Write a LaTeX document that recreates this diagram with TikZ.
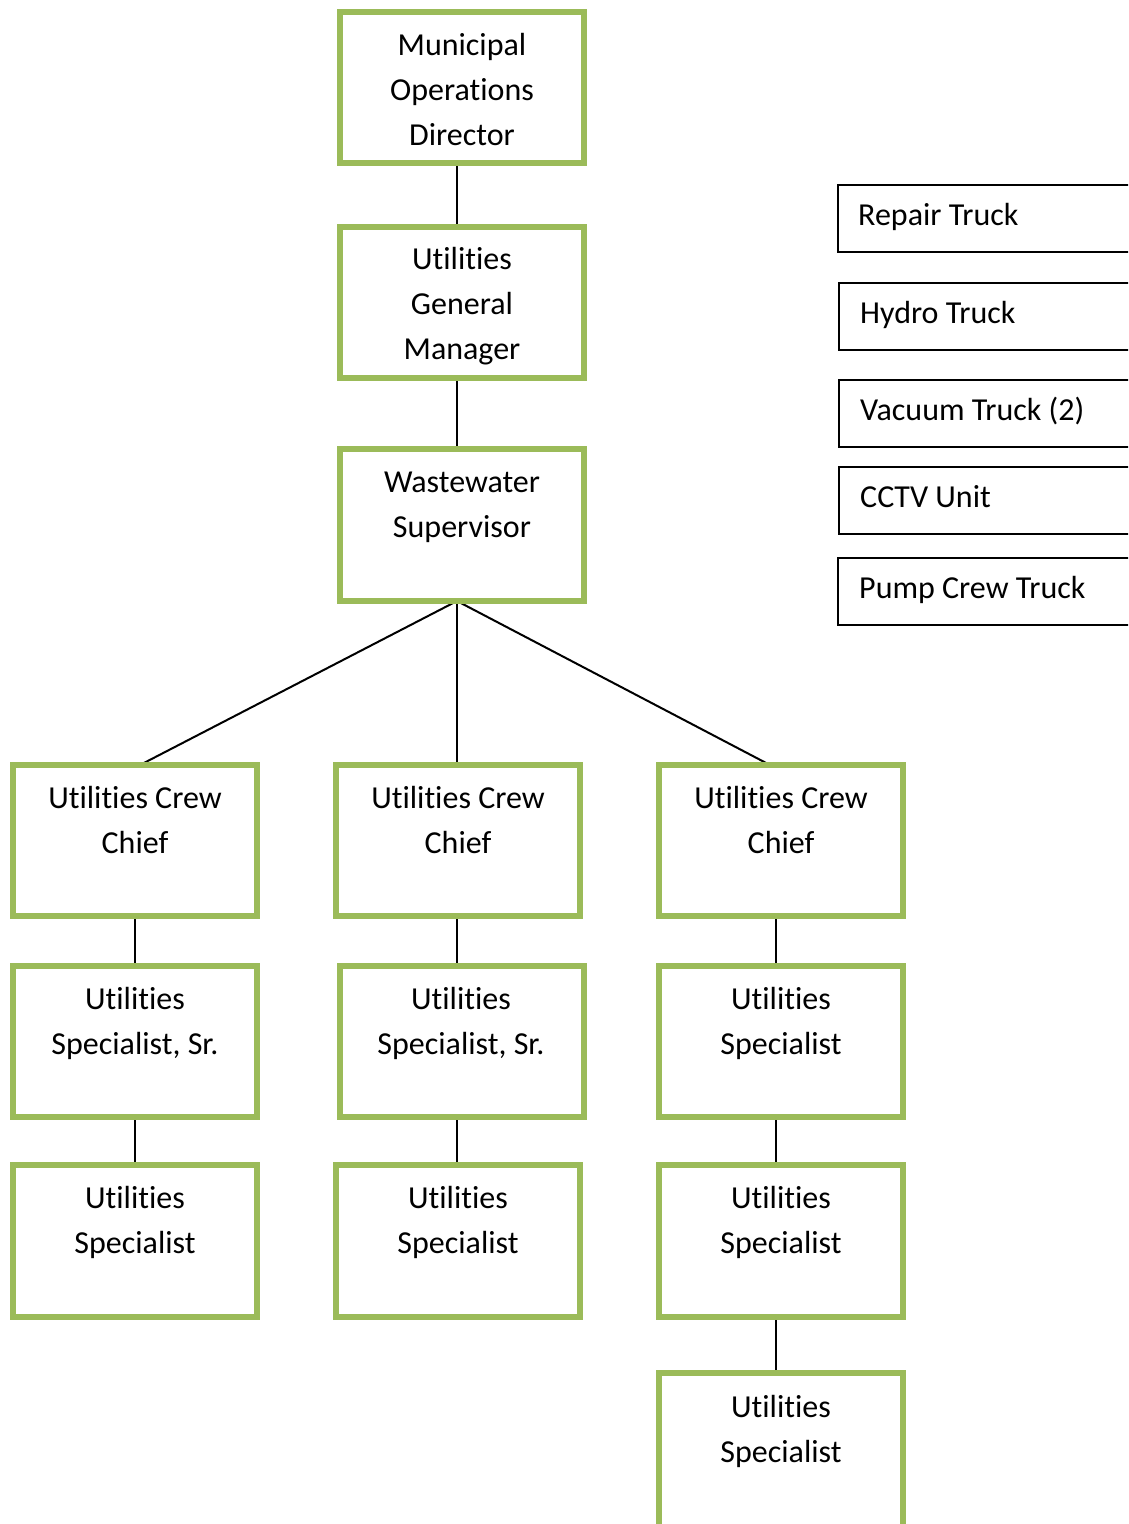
\documentclass[tikz,border=0pt]{standalone}
\usepackage{fontspec}
\setmainfont{Carlito}[Ligatures={NoCommon,NoContextual,NoRare}]
\usetikzlibrary{backgrounds}
\definecolor{boxgreen}{HTML}{9BBB59}
\newcommand\Utl{Ut\kern0pt ilit\kern0pt ies}
\tikzset{
 gbox/.style={draw=boxgreen, line width=6pt, fill=white, minimum width=244pt, minimum height=151pt, inner sep=0pt, outer sep=0pt, anchor=north west},
 lbl/.style={align=center, font=\fontsize{32}{45}\selectfont, anchor=base, inner sep=0pt},
 vbox/.style={draw=black, line width=2pt, fill=white, minimum width=340pt, minimum height=67pt, anchor=north west, inner sep=0pt, outer sep=0pt},
 vlbl/.style={font=\fontsize{32}{45}\selectfont, anchor=base west, inner sep=0pt},
 conn/.style={draw=black, line width=2pt}
}
\begin{document}
\begin{tikzpicture}[x=1pt,y=-1pt]
\clip (0,0) rectangle (1128,1524);
% green boxes
\node[gbox] (b1) at (340,12) {};
\node[gbox] (b2) at (340,227) {};
\node[gbox, minimum height=152pt] (b3) at (340,449) {};
\node[gbox] (c1) at (13,765) {};
\node[gbox] (c2) at (336,765) {};
\node[gbox] (c3) at (659,765) {};
\node[gbox] (s1) at (13,966) {};
\node[gbox] (s2) at (340,966) {};
\node[gbox] (s3) at (659,966) {};
\node[gbox, minimum height=152pt] (u1) at (13,1165) {};
\node[gbox, minimum height=152pt] (u2) at (336,1165) {};
\node[gbox, minimum height=152pt] (u3) at (659,1165) {};
\node[gbox, minimum height=170pt] (u4) at (659,1373) {};
% labels (anchor at baseline of last line)
\node[lbl] (t1) at (462,145) {Municipal\\Operations\\Director};
\node[lbl] (t2) at (462,359) {\Utl\\General\\Manager};
\node[lbl] (t3) at (462,537) {Wastewater\\Supervisor};
\node[lbl] (tc1) at (135,853) {\Utl{} Crew\\Chief};
\node[lbl] (tc2) at (458,853) {\Utl{} Crew\\Chief};
\node[lbl] (tc3) at (781,853) {\Utl{} Crew\\Chief};
\node[lbl] (ts1) at (135,1054) {\Utl\\Specialist, Sr.};
\node[lbl] (ts2) at (461,1054) {\Utl\\Specialist, Sr.};
\node[lbl] (ts3) at (781,1054) {\Utl\\Specialist};
\node[lbl] (tu1) at (135,1253) {\Utl\\Specialist};
\node[lbl] (tu2) at (458,1253) {\Utl\\Specialist};
\node[lbl] (tu3) at (781,1253) {\Utl\\Specialist};
\node[lbl] (tu4) at (781,1462) {\Utl\\Specialist};
% vehicle boxes
\node[vbox] (v1) at (838,185) {};
\node[vbox] (v2) at (839,283) {};
\node[vbox] (v3) at (839,380) {};
\node[vbox] (v4) at (839,467) {};
\node[vbox] (v5) at (838,558) {};
\node[vlbl] (tv1) at (858,225) {Repair Truck};
\node[vlbl] (tv2) at (860,323) {Hydro Truck};
\node[vlbl] (tv3) at (860,420) {Vacuum Truck (2)};
\node[vlbl] (tv4) at (860,507) {CCTV Unit};
\node[vlbl] (tv5) at (859,598) {Pump Crew Truck};
% connectors
\begin{scope}[on background layer]
\fill[white] (0,0) rectangle (1128,1524);
\draw[conn] ([xshift=-5pt]b1.south) -- ([xshift=-5pt]b2.north);
\draw[conn] ([xshift=-5pt]b2.south) -- ([xshift=-5pt]b3.north);
\draw[conn] ([xshift=-5pt]b3.south) -- ([xshift=5pt]c1.north);
\draw[conn] ([xshift=-5pt]b3.south) -- ([xshift=-1pt]c2.north);
\draw[conn] ([xshift=-5pt]b3.south) -- ([xshift=-11pt]c3.north);
\draw[conn] (c1.south) -- (s1.north);
\draw[conn] ([xshift=-1pt]c2.south) -- ([xshift=-5pt]s2.north);
\draw[conn] ([xshift=-5pt]c3.south) -- ([xshift=-5pt]s3.north);
\draw[conn] (s1.south) -- (u1.north);
\draw[conn] ([xshift=-5pt]s2.south) -- ([xshift=-1pt]u2.north);
\draw[conn] ([xshift=-5pt]s3.south) -- ([xshift=-5pt]u3.north);
\draw[conn] ([xshift=-5pt]u3.south) -- ([xshift=-5pt]u4.north);
\end{scope}
\end{tikzpicture}
\end{document}
